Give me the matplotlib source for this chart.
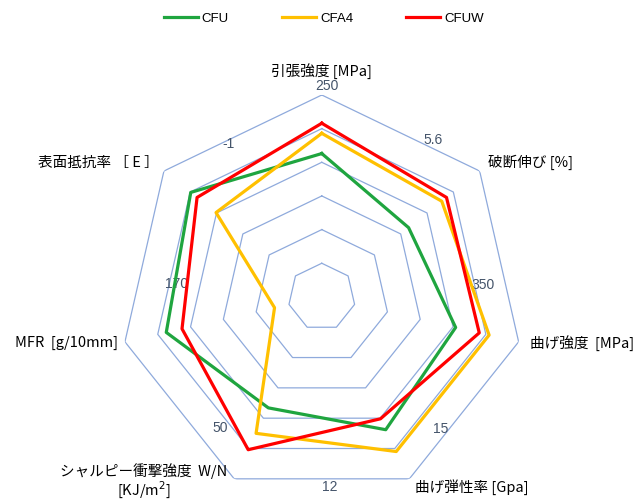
import numpy as np
import matplotlib
matplotlib.use("Agg")
import matplotlib.pyplot as plt

plt.rcParams['font.family'] = ['Noto Sans CJK JP', 'DejaVu Sans']
plt.rcParams['axes.unicode_minus'] = False

# 軸ラベル（時計回り、上から）
axis_labels = ['引張強度 [MPa]', '破断伸び [%]', '曲げ強度  [MPa]', '曲げ弾性率 [Gpa]',
               'シャルピー衝撃強度  W/N\n[KJ/m$^2$]', 'MFR  [g/10mm]', '表面抵抗率 ［ E ］']

# 正規化した値 (0〜1)
cfu = [0.71, 0.55, 0.68, 0.73, 0.61, 0.79, 0.83]
cfa4 = [0.81, 0.76, 0.85, 0.85, 0.75, 0.24, 0.67]
cfuw = [0.86, 0.79, 0.80, 0.67, 0.84, 0.71, 0.79]

series_names = ['CFU', 'CFA4', 'CFUW']
series_colors = ['#1FA53F', '#FFC000', '#FF0000']

# 目盛り文字とその位置 (角度[度, 水平から反時計回り], 半径)
tick_texts = ['250', '5.6', '350', '15', '12', '50', '170', '-1']
tick_pos = [(88.5, 1.045), (54.7, 0.95), (4.3, 0.80), (-48.2, 0.88),
            (-87.6, 0.94), (-127.9, 0.82), (174.9, 0.72), (121.4, 0.89)]

n_rings = 6

n = len(axis_labels)
theta = np.arange(n) * 2 * np.pi / n

fig = plt.figure(figsize=(6.41, 4.99), dpi=100)
ax = fig.add_axes([0.187, 0.0, 0.630, 0.810], projection='polar')
ax.set_theta_offset(np.pi / 2)
ax.set_theta_direction(-1)
ax.set_ylim(0, 1)
ax.grid(False)
ax.set_xticks([])
ax.set_yticks([])
ax.spines['polar'].set_visible(False)

# 七角形グリッド
closed = np.append(theta, theta[0])
for i in range(1, n_rings + 1):
    ax.plot(closed, [i / n_rings] * (n + 1), color='#8FAADC', lw=0.9, zorder=1)

for vals, name, col in zip([cfu, cfa4, cfuw], series_names, series_colors):
    ax.plot(closed, vals + vals[:1], color=col, lw=2.3, label=name, zorder=3)

# 軸ラベル
offsets = [(0, 17), (6, 6), (8, -1), (4, -6), (-65, -2), (-5, -1), (-4, 6)]
aligns = [('center', 'center'), ('left', 'center'), ('left', 'center'), ('left', 'center'),
          ('center', 'center'), ('right', 'center'), ('right', 'center')]
for t, lab, off, (ha, va) in zip(theta, axis_labels, offsets, aligns):
    ax.annotate(lab, xy=(t, 1.0), xytext=off, textcoords='offset points',
                ha=ha, va=va, fontsize=10.5, color='#000000',
                annotation_clip=False, linespacing=1.0)

# 目盛り文字
for txt, (a, r) in zip(tick_texts, tick_pos):
    ax.text(np.deg2rad(90 - a), r, txt, ha='center', va='center', fontsize=10,
            color='#44546A', family=['Liberation Sans', 'DejaVu Sans'], zorder=2)

fig.legend(loc='center', bbox_to_anchor=(0.505, 0.962), ncol=3, frameon=False,
           handlelength=2.6, handletextpad=0.3, columnspacing=4.0,
           prop={'family': ['Liberation Sans', 'DejaVu Sans'], 'size': 9.5})

fig.savefig('out.png', dpi=100)
